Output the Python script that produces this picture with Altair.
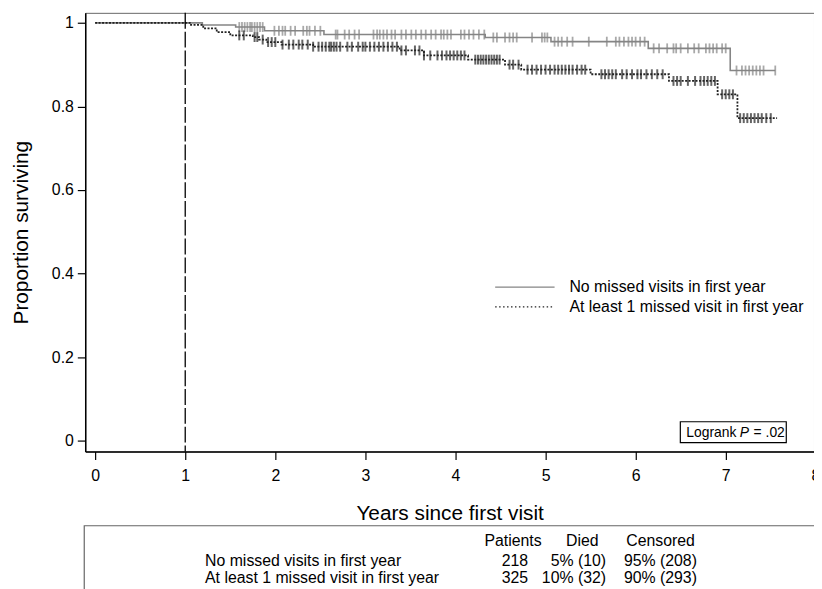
import altair as alt
import pandas as pd
import numpy as np

# ---------------- data ----------------
group_names = ["No missed visits in first year", "At least 1 missed visit in first year"]

no_missed_times = [0, 1.19, 1.56, 1.88, 2.54, 4.33, 5.06, 6.14, 7.05, 7.55]
no_missed_surv = [1.0, 0.995, 0.990, 0.981, 0.972, 0.965, 0.955, 0.939, 0.886, 0.886]

missed_times = [0, 1.05, 1.2, 1.35, 1.5, 1.75, 1.82, 1.9, 2.07, 2.42, 3.38, 3.65,
                4.14, 4.55, 4.73, 5.5, 6.37, 6.91, 7.13, 7.57]
missed_surv = [1.0, 0.995, 0.987, 0.978, 0.970, 0.966, 0.960, 0.954, 0.948, 0.943, 0.934, 0.922,
               0.912, 0.900, 0.888, 0.877, 0.861, 0.829, 0.772, 0.772]

no_missed_censor = [1.6, 1.63, 1.66, 1.69, 1.72, 1.74, 1.77, 1.80, 1.83, 1.86,
                    1.99, 2.04, 2.08, 2.11, 2.17, 2.22, 2.31, 2.35, 2.38, 2.44, 2.50,
                    2.67, 2.69, 2.77, 2.82, 2.88, 2.93, 3.09, 3.13, 3.16, 3.2, 3.24, 3.29, 3.33,
                    3.40, 3.45, 3.51, 3.56, 3.62, 3.67, 3.73, 3.78, 3.84, 3.87, 3.91, 3.95,
                    4.06, 4.1, 4.15, 4.2, 4.26, 4.32, 4.42, 4.46, 4.55, 4.6, 4.64, 4.68, 4.85,
                    4.96, 4.99, 5.02, 5.1, 5.14, 5.18, 5.24, 5.3, 5.48, 5.68,
                    5.78, 5.82, 5.87, 5.92, 5.96, 6.0, 6.05, 6.1,
                    6.2, 6.26, 6.35, 6.42, 6.45, 6.5, 6.58, 6.65, 6.7, 6.78, 6.82, 6.86, 6.9, 6.96, 7.0,
                    7.12, 7.18, 7.22, 7.26, 7.3, 7.34, 7.38, 7.42, 7.55]

missed_censor = [1.6, 1.65, 1.77, 1.8, 1.86, 1.92, 1.96, 2.0, 2.08, 2.15, 2.2, 2.26, 2.3, 2.36, 2.42,
                 2.48, 2.52, 2.56, 2.6, 2.62, 2.65, 2.68, 2.72, 2.8, 2.85, 2.92, 2.97, 3.0, 3.05,
                 3.1, 3.15, 3.2, 3.25, 3.3, 3.35, 3.4, 3.45, 3.55, 3.6, 3.65, 3.72, 3.8, 3.85,
                 3.9, 3.94, 3.98, 4.02, 4.06, 4.1, 4.22, 4.25, 4.28, 4.31, 4.34, 4.37, 4.4, 4.43,
                 4.46, 4.49, 4.6, 4.64, 4.7, 4.8, 4.85, 4.9, 4.95, 5.0, 5.05, 5.1, 5.14, 5.18,
                 5.22, 5.26, 5.3, 5.35, 5.4, 5.44, 5.62, 5.66, 5.7, 5.74, 5.78, 5.85, 5.9, 5.96,
                 6.02, 6.06, 6.12, 6.18, 6.24, 6.3, 6.42, 6.46, 6.5, 6.58, 6.66, 6.72, 6.76, 6.8,
                 6.84, 6.88, 6.96, 7.0, 7.04, 7.08, 7.16, 7.2, 7.24, 7.28, 7.32, 7.36, 7.4, 7.45, 7.5]

reference_year = [1]
x_tick_values = [0, 1, 2, 3, 4, 5, 6, 7]
y_tick_values = [0, 0.2, 0.4, 0.6, 0.8, 1]

table_header = ["Patients", "Died", "Censored"]
table_patients = ["218", "325"]
table_died = ["5% (10)", "10% (32)"]
table_censored = ["95% (208)", "90% (293)"]
logrank_text = ["Logrank", "P", "= .02"]

# ---------------- helpers ----------------
def step_value(times, surv, t):
    i = int(np.searchsorted(times, t, side="right")) - 1
    return surv[i]

df_a = pd.DataFrame({"t": no_missed_times, "s": no_missed_surv})
df_b = pd.DataFrame({"t": missed_times, "s": missed_surv})
cen_a = pd.DataFrame({"t": no_missed_censor,
                      "s": [step_value(no_missed_times, no_missed_surv, t) for t in no_missed_censor]})
cen_b = pd.DataFrame({"t": missed_censor,
                      "s": [step_value(missed_times, missed_surv, t) for t in missed_censor]})

FONT = "Liberation Sans, Arial, sans-serif"
GREY = "#858585"
DARK = "#222222"

W, H = 736, 443
xscale = alt.Scale(domain=[-0.11, 7.98], nice=False, zero=False)
yscale = alt.Scale(domain=[-0.026, 1.024], nice=False, zero=False)

xaxis = alt.Axis(values=x_tick_values, format="d", grid=False, tickSize=8, tickColor="black",
                 domainColor="black", domainWidth=1.5, tickWidth=1.2,
                 labelFont=FONT, labelFontSize=16, labelColor="black", labelPadding=8,
                 title="Years since first visit", titleFont=FONT, titleFontSize=21,
                 titleFontWeight="normal", titleColor="black", titleY=63, titleBaseline="middle")
yaxis = alt.Axis(values=y_tick_values, grid=False, tickSize=8, tickColor="black",
                 domainColor="black", domainWidth=1.5, tickWidth=1.2,
                 labelExpr="datum.value == 0 ? '0' : datum.value == 1 ? '1' : format(datum.value, '.1f')",
                 labelFont=FONT, labelFontSize=16, labelColor="black", labelPadding=4,
                 title="Proportion surviving", titleFont=FONT, titleFontSize=21,
                 titleFontWeight="normal", titleColor="black", titleX=-64, titleY=H / 2,
                 titleBaseline="middle", titleAngle=-90)

base_a = alt.Chart(df_a).mark_line(interpolate="step-after", color=GREY, strokeWidth=1.6).encode(
    x=alt.X("t:Q", scale=xscale, axis=xaxis),
    y=alt.Y("s:Q", scale=yscale, axis=yaxis),
)
line_b = alt.Chart(df_b).mark_line(interpolate="step-after", color=DARK, strokeWidth=1.8,
                                   strokeDash=[2, 1.5]).encode(
    x=alt.X("t:Q", scale=xscale), y=alt.Y("s:Q", scale=yscale))

ticks_a = alt.Chart(cen_a).mark_tick(orient="vertical", size=10, thickness=1.8, color=GREY).encode(
    x=alt.X("t:Q", scale=xscale), y=alt.Y("s:Q", scale=yscale))
ticks_b = alt.Chart(cen_b).mark_tick(orient="vertical", size=10, thickness=2, color=DARK).encode(
    x=alt.X("t:Q", scale=xscale), y=alt.Y("s:Q", scale=yscale))

ref_rule = alt.Chart(pd.DataFrame({"x": reference_year})).mark_rule(
    color="black", strokeWidth=1.3, strokeDash=[16, 3]).encode(x=alt.X("x:Q", scale=xscale))

eight = alt.Chart(pd.DataFrame({"x": [8], "label": ["8"]})).mark_text(
    font=FONT, fontSize=16, color="black", baseline="top", align="center").encode(
    x=alt.X("x:Q", scale=xscale), y=alt.value(H + 17), text="label:N")


def txt(label, x, y, align="left", size=16, style="normal"):
    return alt.Chart(pd.DataFrame({"label": [label]})).mark_text(
        align=align, baseline="middle", font=FONT, fontSize=size, fontStyle=style, color="black"
    ).encode(x=alt.value(x), y=alt.value(y), text="label:N")


def hline(x1, x2, y, color, dash=None, width=1.3):
    kw = dict(color=color, strokeWidth=width)
    if dash:
        kw["strokeDash"] = dash
    return alt.Chart(pd.DataFrame({"a": [0]})).mark_rule(**kw).encode(
        x=alt.value(x1), x2=alt.value(x2), y=alt.value(y))


def box(x1, x2, y1, y2, fill="white", fill_opacity=1.0, stroke="black"):
    return alt.Chart(pd.DataFrame({"a": [0]})).mark_rect(
        fill=fill, fillOpacity=fill_opacity, stroke=stroke, strokeWidth=1.2).encode(
        x=alt.value(x1), x2=alt.value(x2), y=alt.value(y1), y2=alt.value(y2))


# legend
legend_layers = [
    hline(414, 474, 277, GREY),
    hline(414, 474, 297, DARK, dash=[1.5, 2.5]),
    txt(group_names[0], 489, 277),
    txt(group_names[1], 489, 297),
]

# logrank box
logrank_layers = [
    box(601, 708, 413, 434),
    txt(logrank_text[0], 607, 424, size=14),
    txt(logrank_text[1], 661, 424, size=14, style="italic"),
    txt(logrank_text[2], 675, 424, size=14),
]

# table below
table_layers = [
    box(-1, 760, 518, 620, fill="white", fill_opacity=0.0, stroke="#666"),
    txt(table_header[0], 432, 533, align="center"),
    txt(table_header[1], 502, 533, align="center"),
    txt(table_header[2], 581, 533, align="center"),
]
for i, yy in enumerate([554, 571]):
    table_layers += [
        txt(group_names[i], 121, yy),
        txt(table_patients[i], 434, yy, align="center"),
        txt(table_died[i], 526, yy, align="right"),
        txt(table_censored[i], 544, yy),
    ]

chart = alt.layer(
    base_a, line_b, ticks_a, ticks_b, ref_rule, eight,
    *legend_layers, *logrank_layers, *table_layers
).properties(
    width=W, height=H,
    padding={"left": 78, "top": 2, "right": 0, "bottom": 136},
    autosize=alt.AutoSizeParams(type="none"),
    background="white",
).configure_view(stroke="#666", strokeWidth=1)

chart.save("out.html", embed_options={"renderer": "svg", "actions": False})
